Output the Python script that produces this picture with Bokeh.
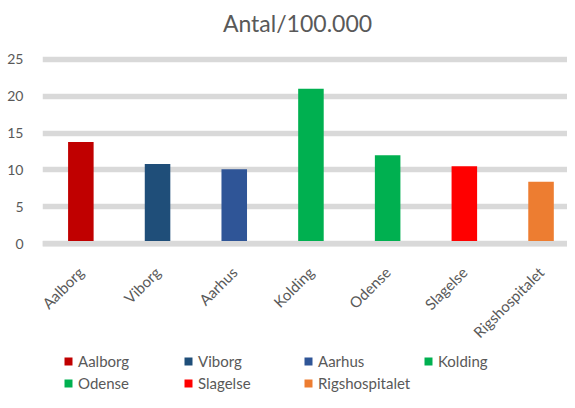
import math
from bokeh.plotting import figure
from bokeh.layouts import column
from bokeh.models import (ColumnDataSource, Range1d, Span, Legend, LegendItem,
                          FixedTicker, Label)
from bokeh.embed import file_html
from bokeh.resources import INLINE

cities = ["Aalborg", "Viborg", "Aarhus", "Kolding", "Odense", "Slagelse", "Rigshospitalet"]
values = [13.8, 10.8, 10.1, 21.0, 12.0, 10.5, 8.4]
colors = ["#C00000", "#1F4E79", "#2F5597", "#00B050", "#00B050", "#FF0000", "#ED7D31"]
y_ticks = [0, 5, 10, 15, 20, 25]
title_text = "Antal/100.000"

FONT = "Lato"
GRAY = "#595959"
GRID = "#D9D9D9"

x_pos = [i + 0.5 for i in range(len(cities))]
source = ColumnDataSource(dict(x=x_pos, city=cities, value=values, color=colors))

W = 567

# ---- title strip ----
tf = figure(width=W, height=50, x_range=Range1d(0, 1), y_range=Range1d(0, 1),
            output_backend="svg", toolbar_location=None, title=None,
            x_axis_type=None, y_axis_type=None,
            min_border_left=0, min_border_right=0, min_border_top=0, min_border_bottom=0)
tf.outline_line_color = None
tf.xgrid.grid_line_color = None
tf.ygrid.grid_line_color = None
tf.add_layout(Label(x=255, y=28, x_units="screen", y_units="screen", text=title_text,
                    text_align="center", text_baseline="alphabetic",
                    text_font="Lato", text_font_size="23px", text_color=GRAY))

# ---- main chart ----
p = figure(
    x_range=Range1d(0, 6.845),
    y_range=Range1d(-0.5, 25.5),
    width=W, height=300, title=None,
    output_backend="svg", toolbar_location=None,
    min_border_left=42, min_border_right=0, min_border_top=5, min_border_bottom=100,
)
p.outline_line_color = None
p.background_fill_color = "white"
p.border_fill_color = "white"

r = p.vbar(x="x", top="value", bottom=0, width=0.333, source=source,
           fill_color="color", line_color=None)

p.add_layout(Span(location=0, dimension="width", line_color=GRID, line_width=5.5))

p.xgrid.grid_line_color = None
p.ygrid.grid_line_color = GRID
p.ygrid.grid_line_width = 5.5
p.yaxis.ticker = y_ticks
p.xaxis.ticker = FixedTicker(ticks=x_pos)
p.xaxis.major_label_overrides = {x: c for x, c in zip(x_pos, cities)}

for ax in (p.xaxis, p.yaxis):
    ax.axis_line_color = None
    ax.major_tick_line_color = None
    ax.minor_tick_line_color = None
    ax.major_tick_out = 0
    ax.major_tick_in = 0
    ax.major_label_text_font = FONT
    ax.major_label_text_color = GRAY

p.yaxis.major_label_text_font_size = "14px"
p.yaxis.major_label_standoff = 19
p.xaxis.major_label_text_font_size = "15px"
p.xaxis.major_label_orientation = math.pi / 4
p.xaxis.major_label_standoff = 22

# ---- legend strip (proxy renderer kept out of view) ----
lf = figure(
    x_range=Range1d(0, 6.845), y_range=Range1d(100, 101),
    width=W, height=42, title=None,
    output_backend="svg", toolbar_location=None,
    x_axis_type=None, y_axis_type=None,
    min_border_left=0, min_border_right=0, min_border_top=0, min_border_bottom=0,
)
lf.outline_line_color = None
lf.xgrid.grid_line_color = None
lf.ygrid.grid_line_color = None
lr = lf.vbar(x="x", top="value", bottom=0, width=0.333, source=source,
             fill_color="color", line_color=None)

# legend columns: items laid out row by row, four per row
col_x = [21, 141, 261, 381]
for c in range(4):
    idxs = [i for i in range(len(cities)) if i % 4 == c]
    lg = Legend(items=[LegendItem(label=cities[i], renderers=[lr], index=i) for i in idxs])
    lg.location = (col_x[c], 0 if len(idxs) == 2 else 22)
    lg.orientation = "vertical"
    lg.glyph_width = 10
    lg.glyph_height = 10
    lg.label_standoff = 5
    lg.label_height = 18
    lg.spacing = 4
    lg.padding = 0
    lg.margin = 0
    lg.border_line_color = None
    lg.background_fill_alpha = 0
    lg.label_text_font = FONT
    lg.label_text_font_size = "15px"
    lg.label_text_color = GRAY
    lf.add_layout(lg, "center")

layout = column(tf, p, lf, spacing=0)
open("out.html", "w").write(file_html(layout, INLINE))
